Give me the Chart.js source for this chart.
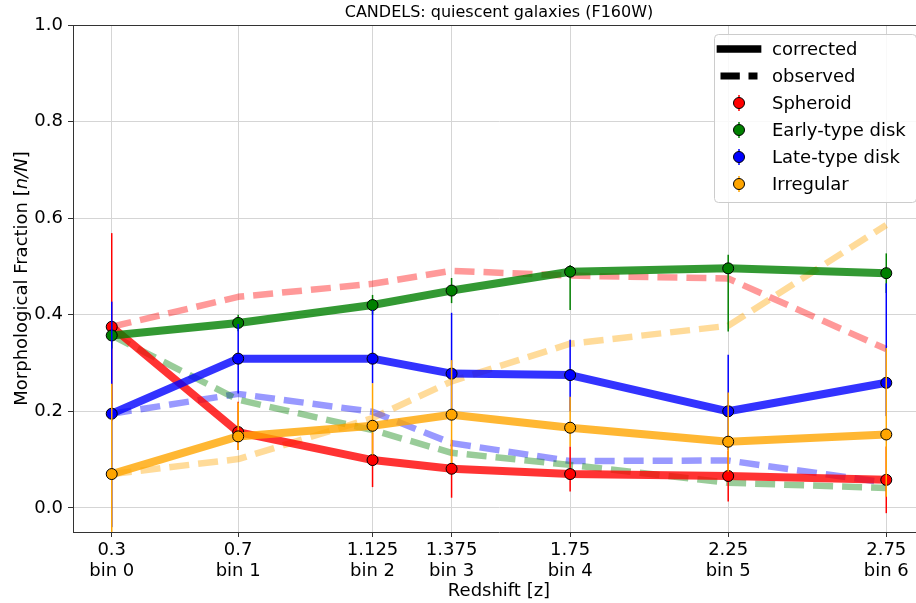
<!DOCTYPE html>
<html>
<head>
<meta charset="utf-8">
<script src="https://cdn.jsdelivr.net/npm/chart.js@4.4.1/dist/chart.umd.min.js"></script>
<style>
  html, body { margin: 0; padding: 0; background: #fff; overflow: hidden; }
  #wrap { width: 926px; height: 603px; }
</style>
</head>
<body>
<div id="wrap"><canvas id="chart" width="926" height="603"></canvas></div>
<script>
(() => {
  "use strict";

  // ── data ────────────────────────────────────────────────────────────────────
  const redshift = [0.3, 0.7, 1.125, 1.375, 1.75, 2.25, 2.75];
  const xTickLabels = ["0.3", "0.7", "1.125", "1.375", "1.75", "2.25", "2.75"];
  const binLabels = ["bin 0", "bin 1", "bin 2", "bin 3", "bin 4", "bin 5", "bin 6"];
  const yTicks = [0, 0.2, 0.4, 0.6, 0.8, 1.0];

  const spheroidCorr = [0.375, 0.157, 0.099, 0.081, 0.070, 0.066, 0.058];
  const spheroidObs  = [0.375, 0.437, 0.464, 0.491, 0.481, 0.475, 0.329];
  const spheroidLo   = [0.180, 0.120, 0.043, 0.021, 0.034, 0.013, -0.011];
  const spheroidHi   = [0.569, 0.220, 0.155, 0.141, 0.127, 0.119, 0.127];

  const earlyCorr = [0.357, 0.383, 0.420, 0.450, 0.489, 0.496, 0.486];
  const earlyObs  = [0.357, 0.224, 0.161, 0.114, 0.089, 0.052, 0.041];
  const earlyLo   = [0.330, 0.366, 0.400, 0.424, 0.410, 0.365, 0.445];
  const earlyHi   = [0.385, 0.400, 0.441, 0.476, 0.503, 0.524, 0.527];

  const lateCorr = [0.195, 0.309, 0.309, 0.278, 0.275, 0.200, 0.259];
  const lateObs  = [0.195, 0.236, 0.199, 0.134, 0.097, 0.098, 0.052];
  const lateLo   = [-0.040, 0.237, 0.258, 0.200, 0.200, 0.120, 0.190];
  const lateHi   = [0.427, 0.381, 0.410, 0.404, 0.348, 0.317, 0.465];

  const irregCorr = [0.070, 0.148, 0.170, 0.193, 0.166, 0.137, 0.152];
  const irregObs  = [0.070, 0.101, 0.186, 0.262, 0.340, 0.377, 0.586];
  const irregLo   = [-0.120, 0.120, 0.110, 0.093, 0.127, 0.075, 0.023];
  const irregHi   = [0.257, 0.218, 0.258, 0.306, 0.230, 0.239, 0.331];

  const FONT = "'DejaVu Sans', sans-serif";

  const series = [
    { label: "Spheroid", corr: spheroidCorr, obs: spheroidObs, lo: spheroidLo, hi: spheroidHi, rgb: "255,0,0" },
    { label: "Early-type disk", corr: earlyCorr, obs: earlyObs, lo: earlyLo, hi: earlyHi, rgb: "0,128,0" },
    { label: "Late-type disk", corr: lateCorr, obs: lateObs, lo: lateLo, hi: lateHi, rgb: "0,0,255" },
    { label: "Irregular", corr: irregCorr, obs: irregObs, lo: irregLo, hi: irregHi, rgb: "255,165,0" },
  ];

  const toPoints = (vals) => redshift.map((z, i) => ({ x: z, y: vals[i] }));

  const datasets = [];
  // observed: dashed, faint, underneath everything
  series.forEach((s) => {
    datasets.push({
      label: s.label + " observed",
      data: toPoints(s.obs),
      borderColor: `rgba(${s.rgb},0.4)`,
      borderWidth: 6.5,
      borderDash: [20, 9],
      borderJoinStyle: "round",
      pointRadius: 0,
      tension: 0,
      order: 10,
    });
  });
  // corrected: thick solid with markers and error bars (later ones on top)
  series.forEach((s, k) => {
    datasets.push({
      label: s.label,
      data: toPoints(s.corr),
      errLo: s.lo,
      errHi: s.hi,
      barColor: `rgb(${s.rgb})`,
      borderColor: `rgba(${s.rgb},0.8)`,
      borderWidth: 8,
      borderJoinStyle: "round",
      pointRadius: 5.5,
      pointBackgroundColor: `rgb(${s.rgb})`,
      pointBorderColor: "#000",
      pointBorderWidth: 1,
      tension: 0,
      order: 4 - k,
    });
  });

  // ── plugins ────────────────────────────────────────────────────────────────
  const errorBars = {
    id: "errorBars",
    beforeDatasetDraw(chart, args) {
      const ds = chart.data.datasets[args.index];
      if (!ds.errLo) return;
      const { ctx, chartArea: a, scales: { x, y } } = chart;
      ctx.save();
      ctx.beginPath();
      ctx.rect(a.left, a.top, a.right - a.left, a.bottom - a.top);
      ctx.clip();
      ctx.strokeStyle = ds.barColor;
      ctx.lineWidth = 1.5;
      ds.data.forEach((p, i) => {
        const px = x.getPixelForValue(p.x);
        ctx.beginPath();
        ctx.moveTo(px, y.getPixelForValue(ds.errLo[i]));
        ctx.lineTo(px, y.getPixelForValue(ds.errHi[i]));
        ctx.stroke();
      });
      ctx.restore();
    },
  };

  const frame = {
    id: "frame",
    afterDatasetsDraw(chart) {
      const { ctx, chartArea: a } = chart;
      ctx.save();
      ctx.strokeStyle = "#333";
      ctx.lineWidth = 1;
      ctx.beginPath();
      ctx.moveTo(a.left, a.top + 0.5);
      ctx.lineTo(a.right, a.top + 0.5);
      ctx.lineTo(a.right, a.bottom);
      ctx.stroke();
      ctx.restore();
    },
  };

  const yTitle = {
    id: "yTitle",
    afterDraw(chart) {
      const { ctx, chartArea: a } = chart;
      const parts = [["Morphological Fraction [", ""], ["n/N", "italic "], ["]", ""]];
      ctx.save();
      ctx.translate(22, (a.top + a.bottom) / 2);
      ctx.rotate(-Math.PI / 2);
      ctx.fillStyle = "#000";
      ctx.textBaseline = "middle";
      ctx.textAlign = "left";
      let total = 0;
      parts.forEach(([t, st]) => {
        ctx.font = `${st}18px ${FONT}`;
        total += ctx.measureText(t).width;
      });
      let cx = -total / 2;
      parts.forEach(([t, st]) => {
        ctx.font = `${st}18px ${FONT}`;
        ctx.fillText(t, cx, 0);
        cx += ctx.measureText(t).width;
      });
      ctx.restore();
    },
  };

  const legendBox = {
    id: "legendBox",
    afterDraw(chart) {
      const { ctx, chartArea: a } = chart;
      const w = 202, h = 168;
      const right = a.right - 9, top = a.top + 9;
      const left = right - w;
      ctx.save();
      ctx.fillStyle = "rgba(255,255,255,0.85)";
      ctx.strokeStyle = "#cccccc";
      ctx.lineWidth = 1;
      ctx.beginPath();
      ctx.roundRect(left + 0.5, top + 0.5, w, h, 4);
      ctx.fill();
      ctx.stroke();

      const hx0 = left + 6.5, hx1 = left + 43.5, hcx = (hx0 + hx1) / 2;
      const tx = left + 58;
      const rowY = (i) => top + 15 + i * 27;

      // corrected
      ctx.strokeStyle = "#000";
      ctx.lineWidth = 7.7;
      ctx.lineCap = "square";
      ctx.beginPath();
      ctx.moveTo(hx0, rowY(0));
      ctx.lineTo(hx1, rowY(0));
      ctx.stroke();
      // observed
      ctx.lineWidth = 7;
      ctx.lineCap = "butt";
      ctx.setLineDash([19.3, 8.7]);
      ctx.beginPath();
      ctx.moveTo(hx0, rowY(1));
      ctx.lineTo(hx1, rowY(1));
      ctx.stroke();
      ctx.setLineDash([]);

      series.forEach((s, i) => {
        const yy = rowY(i + 2);
        ctx.strokeStyle = `rgb(${s.rgb})`;
        ctx.lineWidth = 1.5;
        ctx.beginPath();
        ctx.moveTo(hcx, yy - 8);
        ctx.lineTo(hcx, yy + 8);
        ctx.stroke();
        ctx.fillStyle = `rgb(${s.rgb})`;
        ctx.strokeStyle = "#000";
        ctx.lineWidth = 1;
        ctx.beginPath();
        ctx.arc(hcx, yy, 5.5, 0, Math.PI * 2);
        ctx.fill();
        ctx.stroke();
      });

      ctx.fillStyle = "#000";
      ctx.font = `18px ${FONT}`;
      ctx.textBaseline = "middle";
      ctx.textAlign = "left";
      const texts = ["corrected", "observed"].concat(series.map((s) => s.label));
      texts.forEach((t, i) => ctx.fillText(t, tx, rowY(i) + 1));
      ctx.restore();
    },
  };

  // ── chart ──────────────────────────────────────────────────────────────────
  const tickFont = { family: FONT, size: 18, lineHeight: 1.17 };

  new Chart(document.getElementById("chart").getContext("2d"), {
    type: "line",
    data: { datasets },
    plugins: [errorBars, frame, yTitle, legendBox],
    options: {
      responsive: false,
      animation: false,
      events: [],
      layout: { autoPadding: false, padding: { left: 0, right: 1, top: 0, bottom: 0 } },
      plugins: {
        legend: { display: false },
        tooltip: { enabled: false },
        title: {
          display: true,
          text: "CANDELS: quiescent galaxies (F160W)",
          fullSize: false,
          color: "#000",
          font: { family: FONT, size: 16, weight: "normal", lineHeight: 1.2 },
          padding: { top: 3, bottom: 2.8 },
        },
      },
      scales: {
        x: {
          type: "linear",
          min: 0.1775,
          max: 2.8725,
          afterBuildTicks: (s) => { s.ticks = redshift.map((v) => ({ value: v })); },
          afterFit: (s) => { s.height = 71; s.paddingLeft = 0; s.paddingRight = 0; },
          ticks: {
            autoSkip: false,
            maxRotation: 0,
            color: "#000",
            font: tickFont,
            padding: 3,
            callback: (v) => {
              const i = redshift.indexOf(v);
              return i < 0 ? "" : [xTickLabels[i], binLabels[i]];
            },
          },
          grid: { color: "#d5d5d5", tickColor: "#333", tickLength: 5 },
          border: { color: "#333" },
          title: {
            display: true,
            text: "Redshift [z]",
            color: "#000",
            font: { family: FONT, size: 18, lineHeight: 1.2 },
            padding: { top: 0, bottom: 1 },
          },
        },
        y: {
          min: -0.05,
          max: 1.0,
          afterBuildTicks: (s) => { s.ticks = yTicks.map((v) => ({ value: v })); },
          afterFit: (s) => { s.width = 73; s.paddingTop = 0; s.paddingBottom = 0; },
          ticks: {
            color: "#000",
            font: { family: FONT, size: 18 },
            padding: 5,
            callback: (v) => v.toFixed(1),
          },
          grid: { color: "#d5d5d5", tickColor: "#333", tickLength: 5 },
          border: { color: "#333" },
        },
      },
    },
  });
})();
</script>
</body>
</html>
